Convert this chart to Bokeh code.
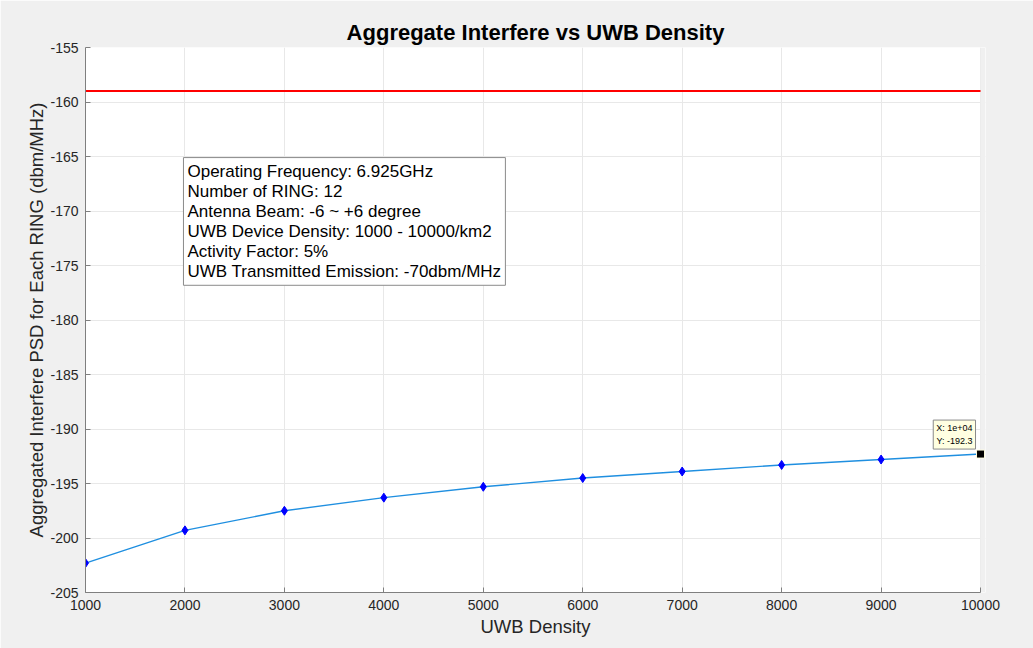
from bokeh.plotting import figure
from bokeh.models import Label, FixedTicker, Range1d, PrintfTickFormatter, BoxAnnotation
from bokeh.embed import file_html
from bokeh.resources import INLINE

density = [1000, 2000, 3000, 4000, 5000, 6000, 7000, 8000, 9000, 10000]
psd = [-202.3, -199.3, -197.5, -196.3, -195.3, -194.5, -193.9, -193.3, -192.8, -192.3]
threshold = -159.0
x_ticks = [1000, 2000, 3000, 4000, 5000, 6000, 7000, 8000, 9000, 10000]
y_ticks = [-205, -200, -195, -190, -185, -180, -175, -170, -165, -160, -155]
info_lines = [
    "Operating Frequency: 6.925GHz",
    "Number of RING: 12",
    "Antenna Beam: -6 ~ +6 degree",
    "UWB Device Density: 1000 - 10000/km2",
    "Activity Factor: 5%",
    "UWB Transmitted Emission: -70dbm/MHz",
]
tip_x = 10000
tip_y = -192.3

x_lo, x_hi = x_ticks[0], x_ticks[-1]
# a little extra room on the right so the data-tip marker is not clipped;
# 9000 units span 895 px, so 50 extra units ~ 5 px, hidden by a grey mask
x_pad = 50

FONT = "Liberation Sans"
TXT = "#262626"
BG = "#f0f0f0"

p = figure(width=1033, height=648, output_backend="svg", toolbar_location=None,
           x_range=Range1d(x_lo, x_hi + x_pad), y_range=Range1d(-205, -155),
           min_border_left=85, min_border_right=48, min_border_top=47, min_border_bottom=56,
           background_fill_color="white", border_fill_color=BG,
           outline_line_color=None)

p.title.text = "Aggregate Interfere vs UWB Density"
p.title.align = "center"
p.title.text_font = FONT
p.title.text_font_size = "22px"
p.title.text_font_style = "bold"
p.title.text_color = "black"
p.title.offset = -3
p.title.standoff = 6

for ax in (p.xaxis[0], p.yaxis[0]):
    ax.axis_line_color = "#7f7f7f"
    ax.major_tick_line_color = "#7f7f7f"
    ax.major_tick_in = 5
    ax.major_tick_out = 0
    ax.minor_tick_line_color = None
    ax.major_label_text_font = FONT
    ax.major_label_text_font_size = "14px"
    ax.major_label_text_color = TXT
    ax.axis_label_text_font = FONT
    ax.axis_label_text_font_size = "18.5px"
    ax.axis_label_text_font_style = "normal"
    ax.axis_label_text_color = TXT
    ax.formatter = PrintfTickFormatter(format="%d")

p.xaxis.bounds = (x_lo, x_hi)
p.xaxis.ticker = FixedTicker(ticks=x_ticks)
p.yaxis.ticker = FixedTicker(ticks=y_ticks)
p.xaxis.axis_label = "UWB Density"
p.yaxis.axis_label = "Aggregated Interfere PSD for Each RING (dbm/MHz)"
p.xaxis.major_label_standoff = 7
p.yaxis.major_label_standoff = 7
p.xaxis.axis_label_standoff = 3
p.yaxis.axis_label_standoff = 0

p.xgrid.grid_line_color = "#e8e8e8"
p.ygrid.grid_line_color = "#e8e8e8"
p.ygrid.bounds = (x_lo, x_hi)

# grey mask for the padding strip right of x = 10000
p.add_layout(BoxAnnotation(left=x_hi, fill_color=BG, fill_alpha=1.0, line_color=None, level="underlay"))

p.line([x_lo, x_hi], [threshold, threshold], line_color="#ff0000", line_width=2)

p.line(density, psd, line_color="#1f8fe0", line_width=1.4)
p.scatter(density[:-1], psd[:-1], marker="diamond", size=9, fill_color="#0000ff", line_color="#0000ff")
p.scatter([tip_x], [tip_y], marker="square", size=8, fill_color="black", line_color="#fffde0", line_width=1)

info = Label(x=1985, y=-165.1, text="\n".join(info_lines), text_align="left", text_baseline="top",
             text_font=FONT, text_font_size="17px", text_color="black", text_line_height=1.06,
             background_fill_color="white", border_line_color="#8a8a8a", border_line_width=1,
             padding=4)
p.add_layout(info)

tip = Label(x=tip_x, y=tip_y, text="X: 1e+04\nY: -192.3", text_align="right", text_baseline="bottom",
            x_offset=-5, y_offset=5, text_font=FONT, text_font_size="9px", text_color="black",
            text_line_height=1.3, background_fill_color="#ffffe1", border_line_color="#8a8a8a",
            border_line_width=1, padding=3)
p.add_layout(tip)

open("out.html", "w").write(file_html(p, INLINE))
